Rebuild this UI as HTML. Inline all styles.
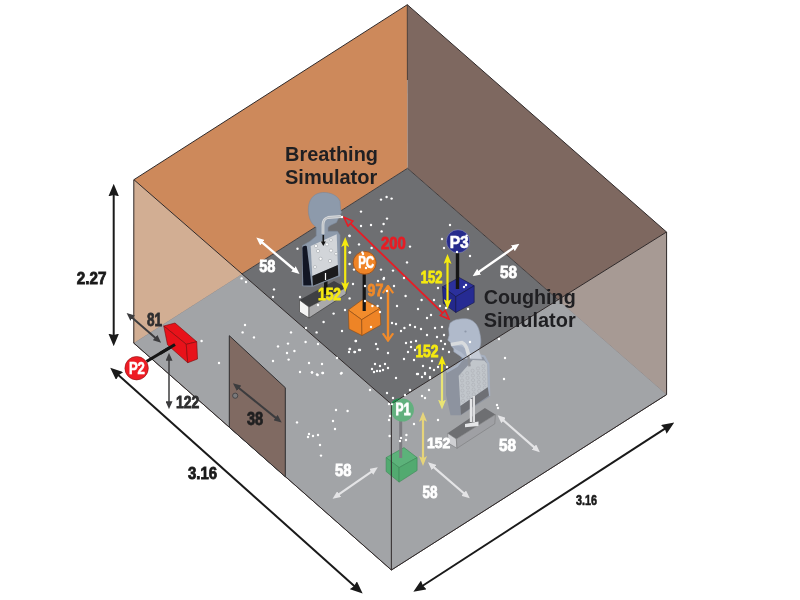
<!DOCTYPE html>
<html><head><meta charset="utf-8"><style>
html,body{margin:0;padding:0;background:#fff;width:800px;height:600px;overflow:hidden}
svg{display:block;will-change:transform}
text{font-family:"Liberation Sans",sans-serif;font-weight:bold}
</style></head><body>
<svg width="800" height="600" viewBox="0 0 800 600">
<defs>
<marker id="ak" viewBox="0 0 12.5 10.5" refX="6.5" refY="5.25" markerWidth="12.5" markerHeight="10.5" markerUnits="userSpaceOnUse" orient="auto-start-reverse"><path d="M0,0 L12.5,5.25 L0,10.5 L1.2,5.25 Z" fill="#1a1a1a"/></marker>
<marker id="aw" viewBox="0 0 8 7" refX="4" refY="3.5" markerWidth="8" markerHeight="7" markerUnits="userSpaceOnUse" orient="auto-start-reverse"><path d="M0,0 L8,3.5 L0,7 Z" fill="#fff"/></marker>
<marker id="awg" viewBox="0 0 8 7" refX="4" refY="3.5" markerWidth="8" markerHeight="7" markerUnits="userSpaceOnUse" orient="auto-start-reverse"><path d="M0,0 L8,3.5 L0,7 Z" fill="#e4e4e6"/></marker>
<marker id="ay" viewBox="0 0 10 8" refX="5" refY="4" markerWidth="10" markerHeight="8" markerUnits="userSpaceOnUse" orient="auto-start-reverse"><path d="M0,0 L10,4 L0,8 L2.2,4 Z" fill="#f5ea10"/></marker>
<marker id="ayp" viewBox="0 0 10 8" refX="5" refY="4" markerWidth="10" markerHeight="8" markerUnits="userSpaceOnUse" orient="auto-start-reverse"><path d="M0,0 L10,4 L0,8 L2.2,4 Z" fill="#e6d47a"/></marker>
<marker id="ao" viewBox="0 0 9 12" refX="7.2" refY="6" markerWidth="9" markerHeight="12" markerUnits="userSpaceOnUse" orient="auto-start-reverse"><path d="M0.5,0.8 L7.8,6 L0.5,11.2" fill="none" stroke="#f08a2a" stroke-width="2.2"/></marker>
<marker id="ar" viewBox="0 0 11 9" refX="1.5" refY="4.5" markerWidth="11" markerHeight="9" markerUnits="userSpaceOnUse" orient="auto-start-reverse"><path d="M1,1 L10,4.5 L1,8 Z" fill="#6d6e71" stroke="#e81c24" stroke-width="1.6"/></marker>
<marker id="ag" viewBox="0 0 8 7" refX="4" refY="3.5" markerWidth="8" markerHeight="7" markerUnits="userSpaceOnUse" orient="auto-start-reverse"><path d="M0,0 L8,3.5 L0,7 Z" fill="#3c3c3e"/></marker>
</defs>
<polygon points="133.9,179.7 407.3,4.7 407.5,168.3 133.7,343" fill="#cd895b"/>
<polygon points="407.3,4.7 666.5,232 666.7,394.5 407.5,168.3" fill="#7e6860"/>
<polygon points="133.7,343 407.5,168.3 666.7,394.5 391.4,570" fill="#6e6f72" stroke="#3a3434" stroke-width="0.9"/>
<line x1="407.3" y1="4.7" x2="407.4" y2="80" stroke="#4a3c36" stroke-width="1"/>

<polygon points="299.50,300.00 334.00,281.00 346.00,287.50 309.00,307.00" fill="#3f4043"/>
<polygon points="299.50,300.00 309.00,307.00 309.00,318.00 299.50,312.00" fill="#f4f4f4" stroke="#333" stroke-width="0.6"/>
<polygon points="309.00,307.00 346.00,287.50 346.00,294.00 309.00,318.00" fill="#a9a9ab" stroke="#333" stroke-width="0.6"/>
<rect x="324" y="276" width="3.5" height="18" fill="#151515"/>
<path d="M302.5,245.5 L310,241.25 L316.25,236 L316.25,227.5 L312.5,223.75 C309,219 307.5,212 308.75,205 C310,198 315,193 322.5,192.5 C331,192 338,196 340,201.25 L340.6,208.75 L341.5,212.5 L339,216.9 L336.5,222.5 L330,225.6 L328,227.5 L328,231.25 L337.5,231.25 L340,235 L340,276 L313,286.5 L302.5,286 Z" fill="#8d9aab" stroke="#7c889a" stroke-width="0.6"/>
<polygon points="310.70,246.10 336.70,234.20 337.80,265.10 312.30,275.90" fill="#d2d5d9"/>
<polygon points="312.30,275.90 337.80,265.10 338.30,275.40 312.90,285.70" fill="#1b1b1d"/>
<path d="M302.4,248 C302.8,246 305,245.3 306.8,246.3 L311.5,285.5 L303.3,285.5 Z" fill="#121624"/>
<path d="M341,216.5 L328,217.5 C324.5,218.5 323,221 323,225 L323,234" stroke="#d8dadc" stroke-width="2.8" fill="none"/>
<path d="M341,216.5 L328,217.5 C324.5,218.5 323,221 323,225 L323,234" stroke="#9aa0a8" stroke-width="0.5" fill="none"/>
<path d="M323.3,235 L323.3,243" stroke="#151515" stroke-width="1.6"/>
<path d="M320.8,241.5 L323.3,246 L325.8,241.5 Z" fill="#151515"/>
<path d="M325.5,273 L325.5,280" stroke="#fff" stroke-width="1.2"/>
<g fill="#fff" stroke="#a0a4aa" stroke-width="0.6">
<circle cx="316" cy="246" r="1.6"/><circle cx="327" cy="244.4" r="1.6"/><circle cx="331" cy="240" r="1.4"/>
<circle cx="318" cy="251" r="1.6"/><circle cx="331" cy="250.6" r="1.6"/><circle cx="336" cy="253.75" r="1.4"/>
<circle cx="320.6" cy="258.75" r="1.6"/><circle cx="330" cy="261" r="1.6"/><circle cx="315" cy="267" r="1.5"/>
</g>


<polygon points="348.30,310.00 363.30,299.00 380.00,308.30 361.70,319.70" fill="#f28c2c" stroke="#8a4a14" stroke-width="0.6"/>
<polygon points="348.30,310.00 361.70,319.70 362.00,335.50 349.00,329.00" fill="#ee8426" stroke="#8a4a14" stroke-width="0.6"/>
<polygon points="361.70,319.70 380.00,308.30 380.80,325.00 362.00,335.50" fill="#ee8426" stroke="#8a4a14" stroke-width="0.6"/>
<rect x="362.6" y="273" width="3.2" height="38" fill="#151515"/>
<circle cx="364.7" cy="262.8" r="11.5" fill="#ef8427" stroke="#9a4e18" stroke-width="0.8"/>
<text x="366.2" y="268" font-size="16" fill="#fff" stroke="#fff" stroke-width="0.6" text-anchor="middle" textLength="16" lengthAdjust="spacingAndGlyphs">PC</text>


<polygon points="442.50,286.70 459.20,277.50 474.20,285.80 455.80,296.70" fill="#2b309c" stroke="#151848" stroke-width="0.6"/>
<polygon points="442.50,286.70 455.80,296.70 455.80,312.50 443.30,303.30" fill="#23288c" stroke="#151848" stroke-width="0.6"/>
<polygon points="455.80,296.70 474.20,285.80 474.20,302.50 455.80,312.50" fill="#262b93" stroke="#151848" stroke-width="0.6"/>
<rect x="455.8" y="252" width="3.4" height="37" fill="#151515"/>
<circle cx="458" cy="241.3" r="11.6" fill="#252a8c" stroke="#9a9cc8" stroke-width="0.5"/>
<text x="459.2" y="247.9" font-size="16" fill="#fff" stroke="#fff" stroke-width="0.6" text-anchor="middle" textLength="19" lengthAdjust="spacingAndGlyphs">P3</text>


<polygon points="447.60,433.20 484.90,408.10 495.40,414.50 456.30,439.00" fill="#0a0a0c"/>
<polygon points="447.60,433.20 456.30,439.00 457.00,448.30 448.20,443.10" fill="#c4c4c6" stroke="#222" stroke-width="0.6"/>
<polygon points="456.30,439.00 495.40,414.50 494.80,423.80 457.00,448.30" fill="#69696b" stroke="#222" stroke-width="0.6"/>
<polygon points="446.00,372.00 457.00,366.00 463.00,358.00 478.00,355.00 484.30,356.40 488.40,364.00 489.50,396.70 461.00,415.30 450.50,415.30 446.00,395.00" fill="#465062"/>
<path d="M446.5,372 L457,366 L463,358 L478,355 L484.3,356.4 L488.4,364 L489.2,396" stroke="#7586a2" stroke-width="2.2" fill="none"/>
<polygon points="458.70,375.70 472.70,360.00 484.30,360.50 487.30,364.00 487.80,387.30 460.40,406.00" fill="#aab0b6"/>
<g fill="none" stroke="#7b8088" stroke-width="0.5"><circle cx="461.8" cy="375.4" r="1.6"/><circle cx="467.2" cy="373.1" r="1.6"/><circle cx="472.6" cy="370.8" r="1.6"/><circle cx="478.0" cy="368.5" r="1.6"/><circle cx="483.4" cy="366.2" r="1.6"/><circle cx="462.1" cy="380.5" r="1.6"/><circle cx="467.5" cy="378.0" r="1.6"/><circle cx="472.9" cy="375.5" r="1.6"/><circle cx="478.3" cy="373.0" r="1.6"/><circle cx="483.7" cy="370.5" r="1.6"/><circle cx="462.3" cy="385.6" r="1.6"/><circle cx="467.7" cy="382.9" r="1.6"/><circle cx="473.1" cy="380.2" r="1.6"/><circle cx="478.5" cy="377.5" r="1.6"/><circle cx="483.9" cy="374.8" r="1.6"/><circle cx="462.5" cy="390.6" r="1.6"/><circle cx="467.9" cy="387.7" r="1.6"/><circle cx="473.3" cy="384.8" r="1.6"/><circle cx="478.8" cy="381.9" r="1.6"/><circle cx="484.2" cy="379.0" r="1.6"/><circle cx="462.8" cy="395.7" r="1.6"/><circle cx="468.2" cy="392.6" r="1.6"/><circle cx="473.6" cy="389.5" r="1.6"/><circle cx="479.0" cy="386.4" r="1.6"/><circle cx="484.4" cy="383.3" r="1.6"/><circle cx="463.0" cy="400.8" r="1.6"/><circle cx="468.4" cy="397.5" r="1.6"/><circle cx="473.8" cy="394.2" r="1.6"/><circle cx="479.2" cy="390.9" r="1.6"/><circle cx="484.7" cy="387.6" r="1.6"/></g>
<polygon points="460.40,406.00 487.80,387.30 489.00,395.50 461.00,414.80" fill="#0a0c12"/>
<rect x="469.8" y="399" width="2.4" height="23" fill="#eeeeee"/><rect x="472.8" y="396" width="2.2" height="26" fill="#dcdcdc"/>
<polygon points="465.00,424.00 478.50,421.50 478.50,426.00 465.00,427.30" fill="#eeeeee"/>
<path d="M464.8,318.7 C472,318.5 478,324 479.4,331.5 C480.5,336 481,340 480.8,342.5 C480.5,346 479.5,348.5 478.5,350 L482,359 L463,358.5 L459.3,355.4 L453.8,351.7 L453.8,349 L451,345.3 L450.5,342.5 L447.8,340.2 L449.2,335.2 L448.7,328.8 L450,323.3 C453,320 458,318.8 464.8,318.7 Z" fill="#b0bacb" stroke="#98a3b5" stroke-width="0.6"/>
<path d="M452,346 C455,349 458,351 461,352 L465,356 L468,356 L466,349 C463,346 458,345 452,346 Z" fill="#a2acbe"/>
<path d="M451,344.4 L462,342.5 C465,344 466.6,347 467.2,350 L469.4,358" stroke="#d8dbde" stroke-width="3.6" fill="none"/>
<path d="M468.2,356 L469.5,366.4" stroke="#4a4d55" stroke-width="2.4"/>
<circle cx="465.5" cy="331.5" r="1.1" fill="#8e98aa"/>


<line x1="345.20" y1="242.00" x2="345.20" y2="287.00" stroke="#f5ea10" stroke-width="2.2" marker-start="url(#ay)" marker-end="url(#ay)"/>
<line x1="447.50" y1="259.00" x2="447.50" y2="304.00" stroke="#f5ea10" stroke-width="2.2" marker-start="url(#ay)" marker-end="url(#ay)"/>
<line x1="442.00" y1="360.50" x2="442.00" y2="404.50" stroke="#f5ea10" stroke-width="2.2" marker-start="url(#ay)" marker-end="url(#ay)"/>
<line x1="350.11" y1="223.21" x2="443.09" y2="313.29" stroke="#e81c24" stroke-width="1.8" marker-start="url(#ar)" marker-end="url(#ar)"/>
<line x1="388.00" y1="286.50" x2="388.00" y2="340.00" stroke="#f08a2a" stroke-width="2.4" marker-start="url(#ao)" marker-end="url(#ao)"/>

<polygon points="133.9,179.7 391.3,404 391.4,570 133.7,343" fill="rgba(220,221,226,0.48)"/>
<polygon points="391.3,404 666.5,232 666.7,394.5 391.4,570" fill="rgba(220,221,226,0.48)"/>
<polygon points="133.9,179.7 242,273.9 133.7,343" fill="#d2ae93"/>
<polygon points="666.5,232 558.1,299.7 666.7,394.5" fill="#a79a94"/>

<polygon points="386.10,457.60 404.00,447.60 417.10,457.60 399.10,467.60" fill="#5cb27a" stroke="#3c8a58" stroke-width="0.6"/>
<polygon points="386.10,457.60 399.10,467.60 399.10,482.10 386.10,471.50" fill="#52aa70" stroke="#3c8a58" stroke-width="0.6"/>
<polygon points="399.10,467.60 417.10,457.60 417.10,470.50 399.10,482.10" fill="#52aa70" stroke="#3c8a58" stroke-width="0.6"/>
<rect x="399.2" y="421" width="3" height="37" fill="#7c7c80"/>
<circle cx="402.4" cy="410" r="11.5" fill="#62b07e"/>

<line x1="423.00" y1="416.70" x2="423.00" y2="461.00" stroke="#e6d47a" stroke-width="2.2" marker-start="url(#ayp)" marker-end="url(#ayp)"/>
<g stroke="#302a2a" stroke-width="1" fill="none">
<polyline points="133.9,179.7 407.3,4.7 666.5,232"/>
<polyline points="133.9,179.7 391.3,404 666.5,232"/>
<polyline points="133.7,343 391.4,570 666.7,394.5"/>
<line x1="133.8" y1="179.7" x2="133.8" y2="343"/>
<line x1="666.6" y1="232" x2="666.6" y2="394.5"/>
<line x1="391.35" y1="404" x2="391.35" y2="570"/>
</g>
<g fill="#fff"><circle cx="381.0" cy="199.6" r="1.2"/>
<circle cx="386.6" cy="197.0" r="1.2"/>
<circle cx="391.6" cy="198.6" r="1.2"/>
<circle cx="361.0" cy="211.6" r="1.2"/>
<circle cx="387.0" cy="218.6" r="1.2"/>
<circle cx="383.6" cy="224.0" r="1.2"/>
<circle cx="371.0" cy="225.0" r="1.2"/>
<circle cx="361.0" cy="226.0" r="1.2"/>
<circle cx="381.6" cy="231.4" r="1.2"/>
<circle cx="349.6" cy="236.0" r="1.2"/>
<circle cx="359.0" cy="244.4" r="1.2"/>
<circle cx="371.6" cy="248.0" r="1.2"/>
<circle cx="410.0" cy="246.6" r="1.2"/>
<circle cx="450.0" cy="225.0" r="1.2"/>
<circle cx="444.0" cy="248.0" r="1.2"/>
<circle cx="470.0" cy="256.0" r="1.2"/>
<circle cx="349.6" cy="252.4" r="1.2"/>
<circle cx="407.0" cy="262.4" r="1.2"/>
<circle cx="381.0" cy="269.6" r="1.2"/>
<circle cx="393.0" cy="270.6" r="1.2"/>
<circle cx="349.6" cy="264.0" r="1.2"/>
<circle cx="354.0" cy="269.6" r="1.2"/>
<circle cx="362.4" cy="252.4" r="1.2"/>
<circle cx="442.0" cy="239.0" r="1.2"/>
<circle cx="384.0" cy="278.0" r="1.2"/>
<circle cx="363.0" cy="254.0" r="1.2"/>
<circle cx="366.0" cy="268.0" r="1.2"/>
<circle cx="452.0" cy="238.0" r="1.2"/>
<circle cx="457.0" cy="252.0" r="1.2"/>
<circle cx="466.6" cy="235.6" r="1.2"/>
<circle cx="353.0" cy="284.0" r="1.2"/>
<circle cx="378.0" cy="281.0" r="1.2"/>
<circle cx="383.6" cy="279.0" r="1.2"/>
<circle cx="394.0" cy="286.0" r="1.2"/>
<circle cx="404.0" cy="278.0" r="1.2"/>
<circle cx="349.6" cy="298.4" r="1.2"/>
<circle cx="345.0" cy="310.0" r="1.2"/>
<circle cx="365.0" cy="301.0" r="1.2"/>
<circle cx="372.4" cy="306.0" r="1.2"/>
<circle cx="381.0" cy="298.0" r="1.2"/>
<circle cx="377.6" cy="306.0" r="1.2"/>
<circle cx="405.6" cy="296.0" r="1.2"/>
<circle cx="397.0" cy="306.0" r="1.2"/>
<circle cx="418.0" cy="309.0" r="1.2"/>
<circle cx="421.6" cy="300.0" r="1.2"/>
<circle cx="434.0" cy="300.0" r="1.2"/>
<circle cx="438.0" cy="288.0" r="1.2"/>
<circle cx="431.0" cy="315.0" r="1.2"/>
<circle cx="427.0" cy="318.0" r="1.2"/>
<circle cx="440.0" cy="306.0" r="1.2"/>
<circle cx="446.0" cy="308.0" r="1.2"/>
<circle cx="464.0" cy="287.0" r="1.2"/>
<circle cx="468.0" cy="309.0" r="1.2"/>
<circle cx="371.0" cy="327.0" r="1.2"/>
<circle cx="392.0" cy="323.0" r="1.2"/>
<circle cx="396.0" cy="324.0" r="1.2"/>
<circle cx="404.4" cy="328.0" r="1.2"/>
<circle cx="410.0" cy="325.0" r="1.2"/>
<circle cx="415.0" cy="327.0" r="1.2"/>
<circle cx="421.0" cy="329.0" r="1.2"/>
<circle cx="401.0" cy="331.0" r="1.2"/>
<circle cx="435.0" cy="328.0" r="1.2"/>
<circle cx="442.0" cy="327.0" r="1.2"/>
<circle cx="427.0" cy="335.0" r="1.2"/>
<circle cx="437.0" cy="337.0" r="1.2"/>
<circle cx="444.0" cy="335.0" r="1.2"/>
<circle cx="441.0" cy="341.0" r="1.2"/>
<circle cx="445.0" cy="344.0" r="1.2"/>
<circle cx="449.0" cy="352.0" r="1.2"/>
<circle cx="443.0" cy="349.0" r="1.2"/>
<circle cx="356.0" cy="341.0" r="1.2"/>
<circle cx="376.0" cy="344.0" r="1.2"/>
<circle cx="377.6" cy="349.0" r="1.2"/>
<circle cx="349.6" cy="349.0" r="1.2"/>
<circle cx="355.0" cy="352.0" r="1.2"/>
<circle cx="360.0" cy="350.0" r="1.2"/>
<circle cx="349.0" cy="352.0" r="1.2"/>
<circle cx="388.0" cy="353.0" r="1.2"/>
<circle cx="406.0" cy="343.0" r="1.2"/>
<circle cx="411.0" cy="342.0" r="1.2"/>
<circle cx="416.0" cy="341.0" r="1.2"/>
<circle cx="411.0" cy="347.0" r="1.2"/>
<circle cx="415.0" cy="350.0" r="1.2"/>
<circle cx="408.0" cy="352.0" r="1.2"/>
<circle cx="404.0" cy="359.0" r="1.2"/>
<circle cx="414.0" cy="360.0" r="1.2"/>
<circle cx="423.0" cy="366.0" r="1.2"/>
<circle cx="432.0" cy="361.0" r="1.2"/>
<circle cx="430.0" cy="368.0" r="1.2"/>
<circle cx="434.0" cy="370.0" r="1.2"/>
<circle cx="438.0" cy="367.0" r="1.2"/>
<circle cx="447.0" cy="367.0" r="1.2"/>
<circle cx="375.0" cy="364.0" r="1.2"/>
<circle cx="380.0" cy="366.0" r="1.2"/>
<circle cx="385.0" cy="364.0" r="1.2"/>
<circle cx="388.0" cy="368.0" r="1.2"/>
<circle cx="372.0" cy="369.0" r="1.2"/>
<circle cx="377.0" cy="371.0" r="1.2"/>
<circle cx="383.0" cy="370.0" r="1.2"/>
<circle cx="417.0" cy="374.0" r="1.2"/>
<circle cx="425.0" cy="374.0" r="1.2"/>
<circle cx="430.0" cy="378.0" r="1.2"/>
<circle cx="396.0" cy="378.0" r="1.2"/>
<circle cx="341.6" cy="373.0" r="1.2"/>
<circle cx="387.0" cy="291.0" r="1.2"/>
<circle cx="466.0" cy="285.0" r="1.2"/>
<circle cx="365.0" cy="286.0" r="1.2"/>
<circle cx="380.0" cy="312.0" r="1.2"/>
<circle cx="422.0" cy="377.0" r="1.2"/>
<circle cx="241.6" cy="278.4" r="1.2"/>
<circle cx="246.0" cy="282.0" r="1.2"/>
<circle cx="274.0" cy="289.4" r="1.2"/>
<circle cx="273.0" cy="297.0" r="1.2"/>
<circle cx="300.0" cy="297.0" r="1.2"/>
<circle cx="318.0" cy="305.0" r="1.2"/>
<circle cx="333.6" cy="313.6" r="1.2"/>
<circle cx="323.6" cy="322.0" r="1.2"/>
<circle cx="306.0" cy="328.0" r="1.2"/>
<circle cx="316.6" cy="332.4" r="1.2"/>
<circle cx="342.0" cy="331.0" r="1.2"/>
<circle cx="355.6" cy="341.0" r="1.2"/>
<circle cx="350.0" cy="349.0" r="1.2"/>
<circle cx="354.4" cy="352.0" r="1.2"/>
<circle cx="359.0" cy="350.0" r="1.2"/>
<circle cx="245.0" cy="325.0" r="1.2"/>
<circle cx="242.6" cy="332.4" r="1.2"/>
<circle cx="254.0" cy="337.4" r="1.2"/>
<circle cx="201.6" cy="341.0" r="1.2"/>
<circle cx="291.0" cy="332.4" r="1.2"/>
<circle cx="288.0" cy="343.6" r="1.2"/>
<circle cx="278.0" cy="346.4" r="1.2"/>
<circle cx="305.6" cy="342.0" r="1.2"/>
<circle cx="318.0" cy="344.0" r="1.2"/>
<circle cx="294.4" cy="351.0" r="1.2"/>
<circle cx="287.0" cy="353.0" r="1.2"/>
<circle cx="288.6" cy="359.6" r="1.2"/>
<circle cx="273.0" cy="361.0" r="1.2"/>
<circle cx="219.0" cy="363.0" r="1.2"/>
<circle cx="309.0" cy="363.0" r="1.2"/>
<circle cx="322.0" cy="364.0" r="1.2"/>
<circle cx="300.0" cy="372.0" r="1.2"/>
<circle cx="312.0" cy="372.4" r="1.2"/>
<circle cx="317.6" cy="375.0" r="1.2"/>
<circle cx="322.4" cy="373.0" r="1.2"/>
<circle cx="341.0" cy="373.6" r="1.2"/>
<circle cx="337.0" cy="358.0" r="1.2"/>
<circle cx="349.4" cy="235.6" r="1.2"/>
<circle cx="350.0" cy="252.5" r="1.2"/>
<circle cx="297.5" cy="248.75" r="1.2"/>
<circle cx="342.0" cy="217.0" r="1.2"/>
<circle cx="499.0" cy="339.0" r="1.2"/>
<circle cx="505.0" cy="358.0" r="1.2"/>
<circle cx="504.0" cy="379.0" r="1.2"/>
<circle cx="497.0" cy="405.0" r="1.2"/>
<circle cx="498.0" cy="408.0" r="1.2"/>
<circle cx="470.0" cy="342.0" r="1.2"/>
<circle cx="312.0" cy="372.4" r="1.2"/>
<circle cx="317.0" cy="374.4" r="1.2"/>
<circle cx="323.0" cy="373.0" r="1.2"/>
<circle cx="370.0" cy="390.0" r="1.2"/>
<circle cx="374.0" cy="372.0" r="1.2"/>
<circle cx="380.0" cy="371.0" r="1.2"/>
<circle cx="387.0" cy="393.0" r="1.2"/>
<circle cx="393.0" cy="398.0" r="1.2"/>
<circle cx="405.0" cy="395.0" r="1.2"/>
<circle cx="410.0" cy="390.0" r="1.2"/>
<circle cx="418.0" cy="374.0" r="1.2"/>
<circle cx="425.0" cy="373.0" r="1.2"/>
<circle cx="430.0" cy="377.0" r="1.2"/>
<circle cx="429.0" cy="390.0" r="1.2"/>
<circle cx="422.0" cy="396.0" r="1.2"/>
<circle cx="425.0" cy="398.0" r="1.2"/>
<circle cx="336.0" cy="410.0" r="1.2"/>
<circle cx="347.6" cy="411.0" r="1.2"/>
<circle cx="297.0" cy="422.4" r="1.2"/>
<circle cx="333.0" cy="421.0" r="1.2"/>
<circle cx="335.0" cy="429.0" r="1.2"/>
<circle cx="309.0" cy="434.0" r="1.2"/>
<circle cx="313.0" cy="436.0" r="1.2"/>
<circle cx="318.0" cy="435.0" r="1.2"/>
<circle cx="308.0" cy="437.0" r="1.2"/>
<circle cx="320.0" cy="445.0" r="1.2"/>
<circle cx="321.0" cy="455.6" r="1.2"/>
<circle cx="390.0" cy="416.0" r="1.2"/>
<circle cx="389.0" cy="420.0" r="1.2"/>
<circle cx="389.6" cy="436.0" r="1.2"/>
<circle cx="401.0" cy="438.0" r="1.2"/>
<circle cx="406.0" cy="440.0" r="1.2"/>
<circle cx="400.0" cy="441.0" r="1.2"/>
<circle cx="406.4" cy="435.0" r="1.2"/>
<circle cx="414.0" cy="424.0" r="1.2"/>
<circle cx="392.0" cy="404.0" r="1.2"/>
<circle cx="438.0" cy="420.0" r="1.2"/>
<circle cx="389.0" cy="404.0" r="1.2"/></g>

<polygon points="229.3,335.7 285.3,387.7 285.3,476.8 229.3,427.3" fill="#806a62" stroke="#2e2e30" stroke-width="1"/>
<circle cx="235.2" cy="395.7" r="2.6" fill="#7a7a7c" stroke="#3a3a3c" stroke-width="0.8"/>
<line x1="236.02" y1="385.70" x2="278.58" y2="420.10" stroke="#3c3c3e" stroke-width="2" marker-start="url(#ag)" marker-end="url(#ag)"/>
<text x="246.9" y="425.3" font-size="17.5" fill="#1f1f20" stroke="#1f1f20" stroke-width="0.8" textLength="16.2" lengthAdjust="spacingAndGlyphs">38</text>
<line x1="175" y1="344.5" x2="146.5" y2="361.5" stroke="#151515" stroke-width="3.2"/>
<polygon points="163.75,326 175,323 196.75,341.75 186.25,344.3" fill="#e8121a" stroke="#7a0a0a" stroke-width="0.6"/>
<polygon points="163.75,326 186.25,344.3 187.75,362.75 167.5,344.75" fill="#e8121a" stroke="#7a0a0a" stroke-width="0.6"/>
<polygon points="186.25,344.3 196.75,341.75 197.5,359 187.75,362.75" fill="#e8121a" stroke="#7a0a0a" stroke-width="0.6"/>
<line x1="175" y1="344.5" x2="160" y2="353.5" stroke="#151515" stroke-width="3.2"/>
<circle cx="136.6" cy="368.2" r="11.7" fill="#ee1c24" stroke="#8a1010" stroke-width="0.6"/>
<text x="136.9" y="374.2" font-size="16" fill="#fff" stroke="#fff" stroke-width="0.6" text-anchor="middle" textLength="16" lengthAdjust="spacingAndGlyphs">P2</text>
<line x1="129.64" y1="315.54" x2="158.11" y2="340.21" stroke="#3c3c3e" stroke-width="2" marker-start="url(#ag)" marker-end="url(#ag)"/>
<text x="146.9" y="325.5" font-size="17.5" fill="#2f2f30" stroke="#2f2f30" stroke-width="0.8" textLength="15.1" lengthAdjust="spacingAndGlyphs">81</text>
<line x1="169.00" y1="356.80" x2="169.00" y2="405.20" stroke="#3c3c3e" stroke-width="1.5" marker-start="url(#ag)" marker-end="url(#ag)"/>
<text x="176" y="408.3" font-size="16" fill="#2f2f30" stroke="#2f2f30" stroke-width="0.8" textLength="23.3" lengthAdjust="spacingAndGlyphs">122</text>
<text x="395.6" y="414.6" font-size="16" fill="#fff" stroke="#fff" stroke-width="0.9" textLength="14.8" lengthAdjust="spacingAndGlyphs">P1</text>
<path d="M391.4,403.9 C392.3,400.6 395,398.9 400.6,398 L391.4,403.9 Z" fill="#17924a"/>
<line x1="259.38" y1="240.16" x2="296.52" y2="271.49" stroke="#fff" stroke-width="2.4" marker-start="url(#aw)" marker-end="url(#aw)"/>
<text x="259.2" y="272" font-size="16" fill="#fff" stroke="#fff" stroke-width="0.8" textLength="16.2" lengthAdjust="spacingAndGlyphs">58</text>
<line x1="516.13" y1="246.00" x2="475.87" y2="274.00" stroke="#fff" stroke-width="2.4" marker-start="url(#aw)" marker-end="url(#aw)"/>
<text x="500" y="278" font-size="16" fill="#fff" stroke="#fff" stroke-width="0.8" textLength="17" lengthAdjust="spacingAndGlyphs">58</text>
<line x1="374.52" y1="469.59" x2="335.88" y2="496.41" stroke="#e4e4e6" stroke-width="2.2" marker-start="url(#awg)" marker-end="url(#awg)"/>
<text x="335" y="475.6" font-size="16" fill="#fff" stroke="#fff" stroke-width="0.8" textLength="16.4" lengthAdjust="spacingAndGlyphs">58</text>
<line x1="431.05" y1="464.89" x2="466.75" y2="495.71" stroke="#e4e4e6" stroke-width="2.2" marker-start="url(#awg)" marker-end="url(#awg)"/>
<text x="422.5" y="498" font-size="16" fill="#fff" stroke="#fff" stroke-width="0.8" textLength="15" lengthAdjust="spacingAndGlyphs">58</text>
<line x1="500.63" y1="417.91" x2="536.87" y2="449.69" stroke="#e4e4e6" stroke-width="2.2" marker-start="url(#awg)" marker-end="url(#awg)"/>
<text x="499" y="451" font-size="16" fill="#fff" stroke="#fff" stroke-width="0.8" textLength="17" lengthAdjust="spacingAndGlyphs">58</text>
<text x="318" y="300" font-size="16" fill="#f5ea10" stroke="#f5ea10" stroke-width="0.8" textLength="23" lengthAdjust="spacingAndGlyphs">152</text>
<text x="420.8" y="282.5" font-size="16" fill="#f5ea10" stroke="#f5ea10" stroke-width="0.8" textLength="21.7" lengthAdjust="spacingAndGlyphs">152</text>
<text x="415.4" y="357.4" font-size="17" fill="#f5ea10" stroke="#f5ea10" stroke-width="0.8" textLength="23.1" lengthAdjust="spacingAndGlyphs">152</text>
<text x="427" y="447.8" font-size="15.5" fill="#fff" stroke="#fff" stroke-width="0.8" textLength="23.2" lengthAdjust="spacingAndGlyphs">152</text>
<text x="381" y="248.8" font-size="16.5" fill="#e81c24" stroke="#e81c24" stroke-width="0.8" textLength="24.8" lengthAdjust="spacingAndGlyphs">200</text>
<text x="367.5" y="296" font-size="16.5" fill="#f08a2a" stroke="#f08a2a" stroke-width="0.8" textLength="15.8" lengthAdjust="spacingAndGlyphs">97</text>

<g stroke="#1a1a1a" stroke-width="2" fill="none">
<line x1="113.70" y1="189.80" x2="113.70" y2="340.20" marker-start="url(#ak)" marker-end="url(#ak)"/>
<line x1="114.70" y1="371.70" x2="358.20" y2="589.50" marker-start="url(#ak)" marker-end="url(#ak)"/>
<line x1="418.39" y1="588.47" x2="669.21" y2="425.83" marker-start="url(#ak)" marker-end="url(#ak)"/>
</g>
<text x="76.8" y="284.4" font-size="16" fill="#1a1a1a" stroke="#1a1a1a" stroke-width="0.8" textLength="29.6" lengthAdjust="spacingAndGlyphs">2.27</text>
<text x="188" y="479" font-size="16" fill="#1a1a1a" stroke="#1a1a1a" stroke-width="0.8" textLength="29" lengthAdjust="spacingAndGlyphs">3.16</text>
<text x="576" y="505.2" font-size="13.8" fill="#1a1a1a" stroke="#1a1a1a" stroke-width="0.6" textLength="21" lengthAdjust="spacingAndGlyphs">3.16</text>
<text x="285" y="160.8" font-size="19.5" fill="#1f1f22" textLength="93" lengthAdjust="spacingAndGlyphs">Breathing</text>
<text x="285" y="183.5" font-size="19.5" fill="#1f1f22" textLength="92.3" lengthAdjust="spacingAndGlyphs">Simulator</text>
<text x="483.7" y="303.9" font-size="20" fill="#1f1f22" textLength="92" lengthAdjust="spacingAndGlyphs">Coughing</text>
<text x="483.7" y="326.7" font-size="20" fill="#1f1f22" textLength="92" lengthAdjust="spacingAndGlyphs">Simulator</text>
</svg>
</body></html>
